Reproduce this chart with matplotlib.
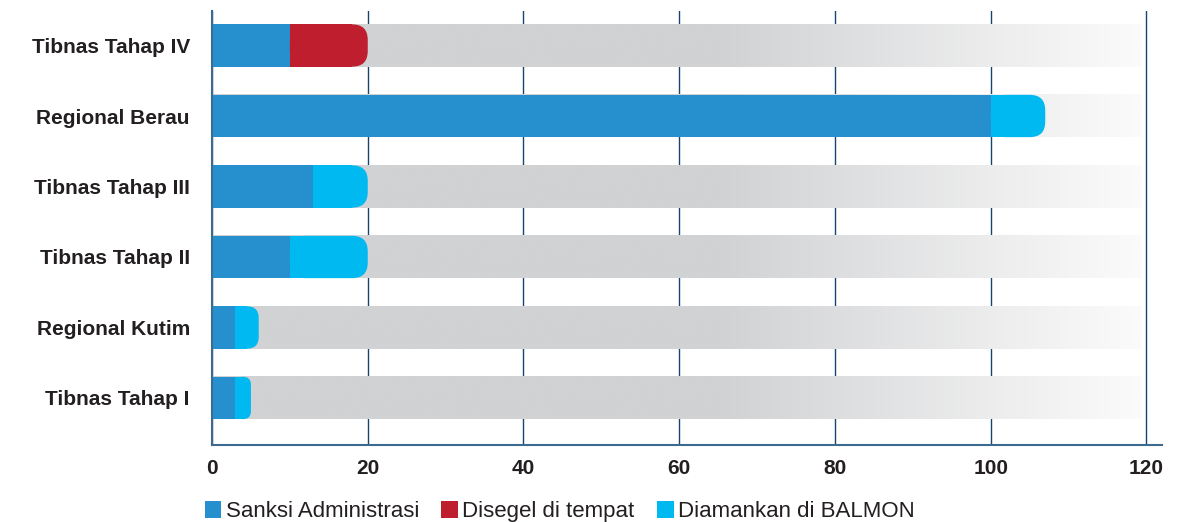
import numpy as np
import matplotlib
matplotlib.use('Agg')
import matplotlib.pyplot as plt
from matplotlib.patches import FancyBboxPatch, Patch
from matplotlib.colors import LinearSegmentedColormap

plt.rcParams['font.family'] = ['Liberation Sans', 'DejaVu Sans']

# Data (bottom to top)
categories = ['Tibnas Tahap I', 'Regional Kutim', 'Tibnas Tahap II',
              'Tibnas Tahap III', 'Regional Berau', 'Tibnas Tahap IV']
sanksi = [3, 3, 10, 13, 100, 10]
disegel = [0, 0, 0, 0, 0, 10]
diamankan = [2, 3, 10, 7, 7, 0]
series_names = ['Sanksi Administrasi', 'Disegel di tempat', 'Diamankan di BALMON']
xticks = [0, 20, 40, 60, 80, 100, 120]

colors = ['#268fce', '#be1e2d', '#00b9f1']
bg_color = '#d1d2d4'
grid_color = '#184470'
text_color = '#231f20'

fig = plt.figure(figsize=(11.91, 5.22), dpi=100)
ax = fig.add_axes([0.178, 0.1475, 0.7977, 0.8315])

bar_h = 0.6
y = np.arange(len(categories))
bg_end = 119.3

# Gray background track with fade to white on the right
grad_x = np.linspace(0, bg_end, 400)
t = np.clip((grad_x - 65) / (bg_end - 65), 0, 1)
cmap = LinearSegmentedColormap.from_list('fade', [bg_color, '#fbfbfb'])
grad = t[np.newaxis, :]
for yi in y:
    ax.imshow(grad, cmap=cmap, vmin=0, vmax=1, aspect='auto',
              extent=(0, bg_end, yi - bar_h / 2, yi + bar_h / 2),
              zorder=1, interpolation='bilinear')

# Stacked bars, last segment rounded on the right
aspect = (1 / 70.5) / (1 / 7.783)
series = [sanksi, disegel, diamankan]
for i, yi in enumerate(y):
    vals = [s[i] for s in series]
    nz = [k for k, v in enumerate(vals) if v > 0]
    last = nz[-1]
    left = 0
    for k, v in enumerate(vals):
        if v <= 0:
            continue
        if k == last:
            r = min(2.0, v / 2)
            ax.barh(yi, max(v - r, v / 2), left=left, height=bar_h,
                    color=colors[k], zorder=2, linewidth=0)
            p = FancyBboxPatch((left, yi - bar_h / 2), v, bar_h,
                               boxstyle=f'round,pad=0,rounding_size={r}',
                               mutation_aspect=aspect, facecolor=colors[k],
                               edgecolor='none', zorder=2)
            ax.add_patch(p)
        else:
            ax.barh(yi, v, left=left, height=bar_h, color=colors[k],
                    zorder=2, linewidth=0)
        left += v

ax.set_xlim(0, 122)
ax.set_ylim(-0.667, 5.49)
ax.set_xticks(xticks)
ax.set_yticks(y)
ax.set_yticklabels(categories)
ax.grid(axis='x', color=grid_color, linewidth=1.0, zorder=0)
ax.set_axisbelow(True)

for side in ['top', 'right']:
    ax.spines[side].set_visible(False)
for side in ['left', 'bottom']:
    ax.spines[side].set_color('#3d6a8f')
    ax.spines[side].set_linewidth(1.5)

ax.tick_params(axis='both', length=0)
ax.tick_params(axis='y', pad=16)
ax.tick_params(axis='x', pad=10)
for lbl in ax.get_yticklabels():
    lbl.set_fontweight('bold')
    lbl.set_fontsize(15)
    lbl.set_color(text_color)
for lbl in ax.get_xticklabels():
    lbl.set_fontweight('bold')
    lbl.set_fontsize(15)
    lbl.set_color(text_color)

handles = [Patch(facecolor=c, edgecolor='none') for c in colors]
fig.legend(handles, series_names, loc='lower left', bbox_to_anchor=(0.155, -0.038),
           ncol=3, frameon=False, fontsize=16, handlelength=0.75, handleheight=0.8,
           handletextpad=0.2, columnspacing=1.0, labelcolor=text_color)

fig.savefig('out.png', dpi=100)
